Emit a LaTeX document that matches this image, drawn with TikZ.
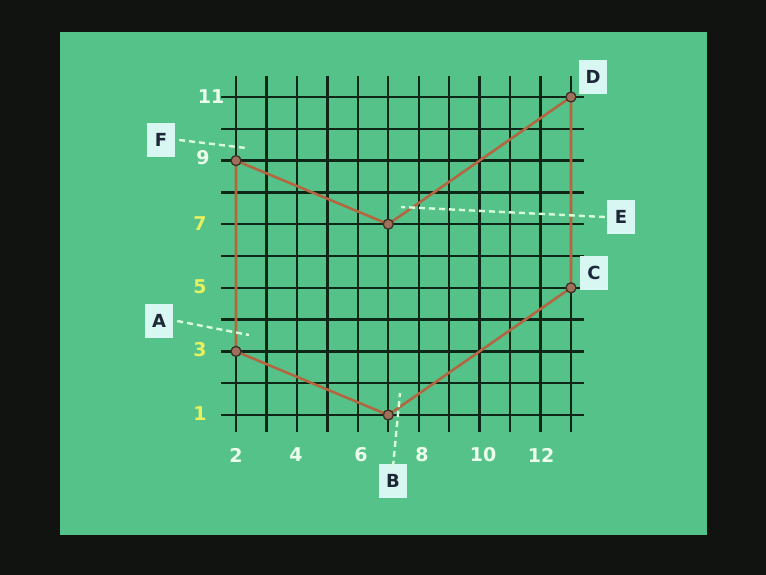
\documentclass[tikz,border=0pt]{standalone}
\usepackage{fontspec}
\setmainfont{DejaVu Sans}
\begin{document}
\begin{tikzpicture}[x=1pt,y=-1pt,
  gridline/.style={draw=gridc,line width=2.3pt},
  shapeline/.style={draw=brownc,line width=2.6pt,line join=round},
  vtx/.style={circle,draw=vtxd,fill=vtxf,line width=1.3pt,minimum size=10pt,inner sep=0pt},
  lab/.style={fill=boxc,text=boxt,font=\bfseries\fontsize{18}{18}\selectfont,minimum width=28pt,minimum height=34pt,inner sep=0pt},
  leader/.style={draw=white!85!green,line width=2.4pt,dash pattern=on 6pt off 4pt},
  axw/.style={text=white!92!green,font=\bfseries\fontsize{19}{19}\selectfont,inner sep=0pt},
  axy/.style={text=yellowc,font=\bfseries\fontsize{19}{19}\selectfont,inner sep=0pt}]
\definecolor{bgc}{HTML}{111310}
\definecolor{greenc}{HTML}{55C28A}
\definecolor{gridc}{HTML}{0E2616}
\definecolor{brownc}{HTML}{B36640}
\definecolor{vtxd}{HTML}{3A3028}
\definecolor{vtxf}{HTML}{A07058}
\definecolor{boxc}{HTML}{D8F6F2}
\definecolor{boxt}{HTML}{1C2838}
\definecolor{yellowc}{HTML}{E8F060}
\useasboundingbox (0,0) rectangle (766,575);
\fill[bgc] (0,0) rectangle (766,575);
\fill[greenc] (60,32) rectangle (707,535);
% grid
\foreach \g in {2,...,13}{
  \draw[gridline] ({236+(\g-2)*30.45},76) -- ({236+(\g-2)*30.45},432);
}
\foreach \g in {1,...,11}{
  \draw[gridline] (221,{415-(\g-1)*31.8}) -- (584,{415-(\g-1)*31.8});
}
% vertices
\coordinate (A) at ({236},{415-2*31.8});
\coordinate (B) at ({236+5*30.45},415);
\coordinate (C) at ({236+11*30.45},{415-4*31.8});
\coordinate (D) at ({236+11*30.45},{415-10*31.8});
\coordinate (E) at ({236+5*30.45},{415-6*31.8});
\coordinate (F) at ({236},{415-8*31.8});
\draw[shapeline] (A) -- (B) -- (C) -- (D) -- (E) -- (F) -- cycle;
\foreach \p in {A,B,C,D,E,F}{ \node[vtx] (v\p) at (\p) {}; }
% axis labels
\node[axw] (x2) at (236,455) {2};
\node[axw] (x4) at (296,455) {4};
\node[axw] (x6) at (361,455) {6};
\node[axw] (x8) at (422,455) {8};
\node[axw] (x10) at (483,455) {10};
\node[axw] (x12) at (541,455) {12};
\node[axw] (y11) at (211,97) {11};
\node[axw] (y9) at (203,158) {9};
\node[axy] (y7) at (200,224) {7};
\node[axy] (y5) at (200,287) {5};
\node[axy] (y3) at (200,350) {3};
\node[axy] (y1) at (200,414) {1};
% letter boxes
\node[lab] (lF) at (161,140) {F};
\node[lab] (lA) at (159,321) {A};
\node[lab] (lB) at (393,481) {B};
\node[lab] (lC) at (594,273) {C};
\node[lab] (lD) at (593,77) {D};
\node[lab] (lE) at (621,217) {E};
% leaders
\coordinate (tF) at (246,148);
\coordinate (tA) at (249,335);
\coordinate (tB) at (400,393);
\coordinate (tE) at (401,207);
\draw[leader] ([xshift=4pt]lF.east) -- (tF);
\draw[leader] ([xshift=4pt]lA.east) -- (tA);
\draw[leader] ([yshift=-3pt]lB.north) -- (tB);
\draw[leader] ([xshift=-2pt]lE.west) -- (tE);
\end{tikzpicture}
\end{document}
